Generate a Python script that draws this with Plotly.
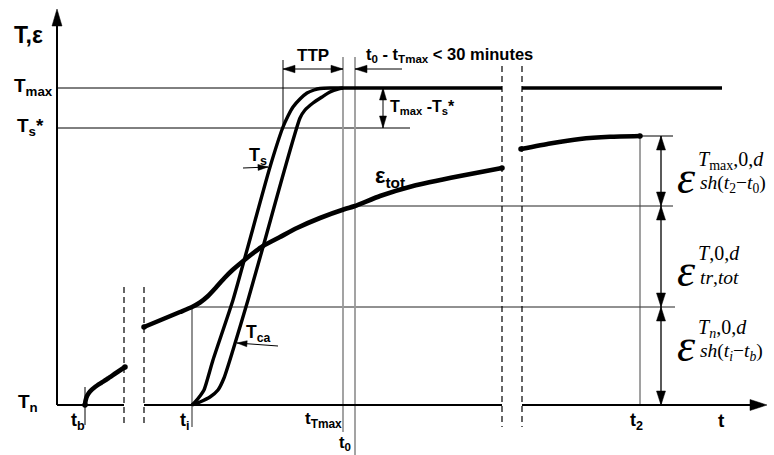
import math
import plotly.graph_objects as go

# ---------------- data (drawing units: t to the right, level downward) ----------------
# characteristic time positions
t_axis0, t_b, t_i, t_Tmax, t_0, t_2, t_end = 57, 85, 192, 343, 355, 640, 767
t_ttp0 = 283
# characteristic levels
lv_top, lv_Tmax, lv_Ts, lv_n = 9, 88, 128, 405
lv_e_t2, lv_e_t0, lv_e_ti = 136, 206, 307

# axis breaks (dashed)
break_a = [124, 144]
break_b = [502, 522]

# T_s curve (steeper, left)
Ts_t = [192, 196, 200, 204, 213, 233, 247, 270, 283, 288, 293, 300, 307, 314, 320, 330, 502]
Ts_v = [405, 401, 396, 390, 360, 300, 250, 167, 127, 116, 107, 99, 93, 90, 88.5, 88, 88]
# T plateau after the break
Tp2_t = [522, 722]
Tp2_v = [88, 88]
# T_ca curve (right)
Tca_t = [192, 200, 210, 218, 224, 233, 248, 263, 300, 305, 313, 322, 330, 338, 343]
Tca_v = [405, 402, 397, 390, 378, 350, 300, 247, 118, 110, 103, 97, 92, 89, 88]

# total strain segments
e1_t = [85, 85.5, 87, 90, 95, 101, 108, 116, 125]
e1_v = [405, 401, 396, 391.5, 387, 383, 378.5, 373, 367]
e2_t = [144, 156, 168, 180, 192, 200, 208, 216, 224, 232, 242, 252, 263, 280, 297, 320, 345, 355,
        380, 413, 460, 502]
e2_v = [327, 322, 317, 312, 307, 302.5, 296, 287.5, 278.5, 270.5, 262, 254, 246, 237, 228, 218, 209, 206,
        196, 186, 176, 168]
e3_t = [521, 550, 580, 610, 640]
e3_v = [149, 143.5, 139, 136.8, 136]

fig = go.Figure()

def line(xs, ys, w=1.0, color="black", dash=None, shape="linear", smooth=0.6):
    fig.add_trace(go.Scatter(x=xs, y=ys, mode="lines", hoverinfo="skip",
                             line=dict(color=color, width=w, dash=dash, shape=shape,
                                       smoothing=smooth if shape == "spline" else None)))

def head(tx, ty, fx, fy, L, W):
    dx, dy = tx - fx, ty - fy
    n = math.hypot(dx, dy)
    ux, uy = dx / n, dy / n
    bx, by = tx - ux * L, ty - uy * L
    px, py = -uy * W / 2, ux * W / 2
    fig.add_trace(go.Scatter(x=[tx, bx + px, bx - px, tx], y=[ty, by + py, by - py, ty],
                             mode="lines", fill="toself", fillcolor="black",
                             line=dict(width=0.5, color="black"), hoverinfo="skip"))

def arrow(x0, y0, x1, y1, both=False, L=12, W=7, w=1.0):
    line([x0, x1], [y0, y1], w=w)
    head(x1, y1, x0, y0, L, W)
    if both:
        head(x0, y0, x1, y1, L, W)

# ---- thin guide lines ----
line([t_axis0, 330], [lv_Tmax, lv_Tmax], w=1)
line([t_axis0, 410], [lv_Ts, lv_Ts], w=1)
line([t_0, 673], [lv_e_t0, lv_e_t0], w=1, color="#222")
line([t_i, 675], [lv_e_ti, lv_e_ti], w=1, color="#222")
line([t_2, 673], [lv_e_t2, lv_e_t2], w=1)
line([t_b, t_b], [387, 425], w=1)
line([t_i, t_i], [lv_e_ti, 427], w=1.3, color="#555")
line([t_Tmax, t_Tmax], [57, 432], w=1.8, color="#999")
line([t_0, t_0], [57, 455], w=1.8, color="#999")
line([t_ttp0, t_ttp0], [60, lv_Ts], w=1)
line([t_2, t_2], [lv_e_t2, lv_n], w=1, color="#444")

# dashed breaks
for xb in break_a:
    line([xb, xb], [287, 427], w=1.2, dash="6px,4px")
for xb in break_b:
    line([xb, xb], [66, 427], w=1.2, dash="6px,4px")

# ---- axes ----
line([t_axis0, t_axis0], [lv_n, lv_top + 10], w=2)
head(t_axis0, lv_top, t_axis0, lv_n, 17, 10)
line([t_axis0, break_a[0]], [lv_n, lv_n], w=2)
line([break_a[1], break_b[0]], [lv_n, lv_n], w=2)
line([break_b[1], t_end - 10], [lv_n, lv_n], w=2)
head(t_end, lv_n, t_axis0, lv_n, 17, 11)

# ---- curves ----
line(Ts_t, Ts_v, w=3.4, shape="spline")
line(Tp2_t, Tp2_v, w=3.4)
line(Tca_t, Tca_v, w=3.4, shape="spline")
for et, ev in ((e1_t, e1_v), (e2_t, e2_v), (e3_t, e3_v)):
    line(et, ev, w=4.6, shape="spline", smooth=0.5)
    fig.add_trace(go.Scatter(x=[et[0], et[-1]], y=[ev[0], ev[-1]], mode="markers",
                             marker=dict(size=5.5, color="black"), hoverinfo="skip"))

# ---- dimension arrows ----
arrow(t_ttp0, 69, t_Tmax, 69, both=True, L=12, W=7.5)
arrow(402, 69, t_0, 69, L=12, W=7.5)
arrow(383, lv_Tmax, 383, lv_Ts, both=True, L=12, W=7)
arrow(661, lv_e_t2, 661, lv_e_t0, both=True, L=14, W=9, w=1.3)
arrow(661, lv_e_t0, 661, lv_e_ti, both=True, L=14, W=9, w=1.3)
arrow(661, lv_e_ti, 661, lv_n, both=True, L=14, W=9, w=1.3)
arrow(243, 168, 268, 167, L=10, W=6)
arrow(278, 346, 237, 343, L=10, W=6)

# ---- labels ----
SANS = "Liberation Sans"
SERIF = "Liberation Serif"

def label(x, y, text, size=15, xanchor="center", family=SANS, bold=True, italic=False):
    fig.add_annotation(x=x, y=y, text=text, showarrow=False, xanchor=xanchor, yanchor="middle",
                       font=dict(family=family, size=size, color="black",
                                 weight="bold" if bold else "normal",
                                 style="italic" if italic else "normal"))

label(28, 35, "T,ε", size=23)
label(55, 87, "T<sub>max</sub>", size=19, xanchor="right")
label(46, 127, "T<sub>s</sub>*", size=19, xanchor="right")
label(28, 403, "T<sub>n</sub>", size=19)
label(313, 55, "TTP", size=17)
label(364, 55, "t<sub>0</sub> - t<sub>Tmax</sub> < 30 minutes", size=16.5, xanchor="left")
label(388, 107, "T<sub>max</sub> -T<sub>s</sub>*", size=16, xanchor="left")
label(373, 177, "ε<sub>tot</sub>", size=22, xanchor="left")
label(258, 156, "T<sub>s</sub>", size=18)
label(244, 333, "T<sub>ca</sub>", size=17.5, xanchor="left")
label(78, 421, "t<sub>b</sub>", size=18)
label(185, 421, "t<sub>i</sub>", size=18)
label(323, 420, "t<sub>Tmax</sub>", size=17)
label(345, 443, "t<sub>0</sub>", size=16.5)
label(636, 421, "t<sub>2</sub>", size=18)
label(721, 420, "t", size=19)

# math labels at the right
def strain_label(yc, sup, sub):
    label(675, yc, "ε", size=46, xanchor="left", family=SERIF, bold=False, italic=True)
    label(696, yc - 17, sup, size=20, xanchor="left", family=SERIF, bold=False)
    label(698, yc + 7, sub, size=19.5, xanchor="left", family=SERIF, bold=False)

strain_label(177, "<i>T</i><sub>max</sub>,0,<i>d</i>", "<i>sh</i>(<i>t</i><sub>2</sub>−<i>t</i><sub>0</sub>)")
strain_label(270, "<i>T</i>,0,<i>d</i>", "<i>tr</i>,<i>tot</i>")
strain_label(345, "<i>T<sub>n</sub></i>,0,<i>d</i>", "<i>sh</i>(<i>t<sub>i</sub></i>−<i>t<sub>b</sub></i>)")

fig.update_layout(width=774, height=455, margin=dict(l=0, r=0, t=0, b=0),
                  paper_bgcolor="white", plot_bgcolor="white", showlegend=False,
                  xaxis=dict(range=[0, 774], visible=False, fixedrange=True),
                  yaxis=dict(range=[455, 0], visible=False, fixedrange=True))

fig.write_html("out.html")
